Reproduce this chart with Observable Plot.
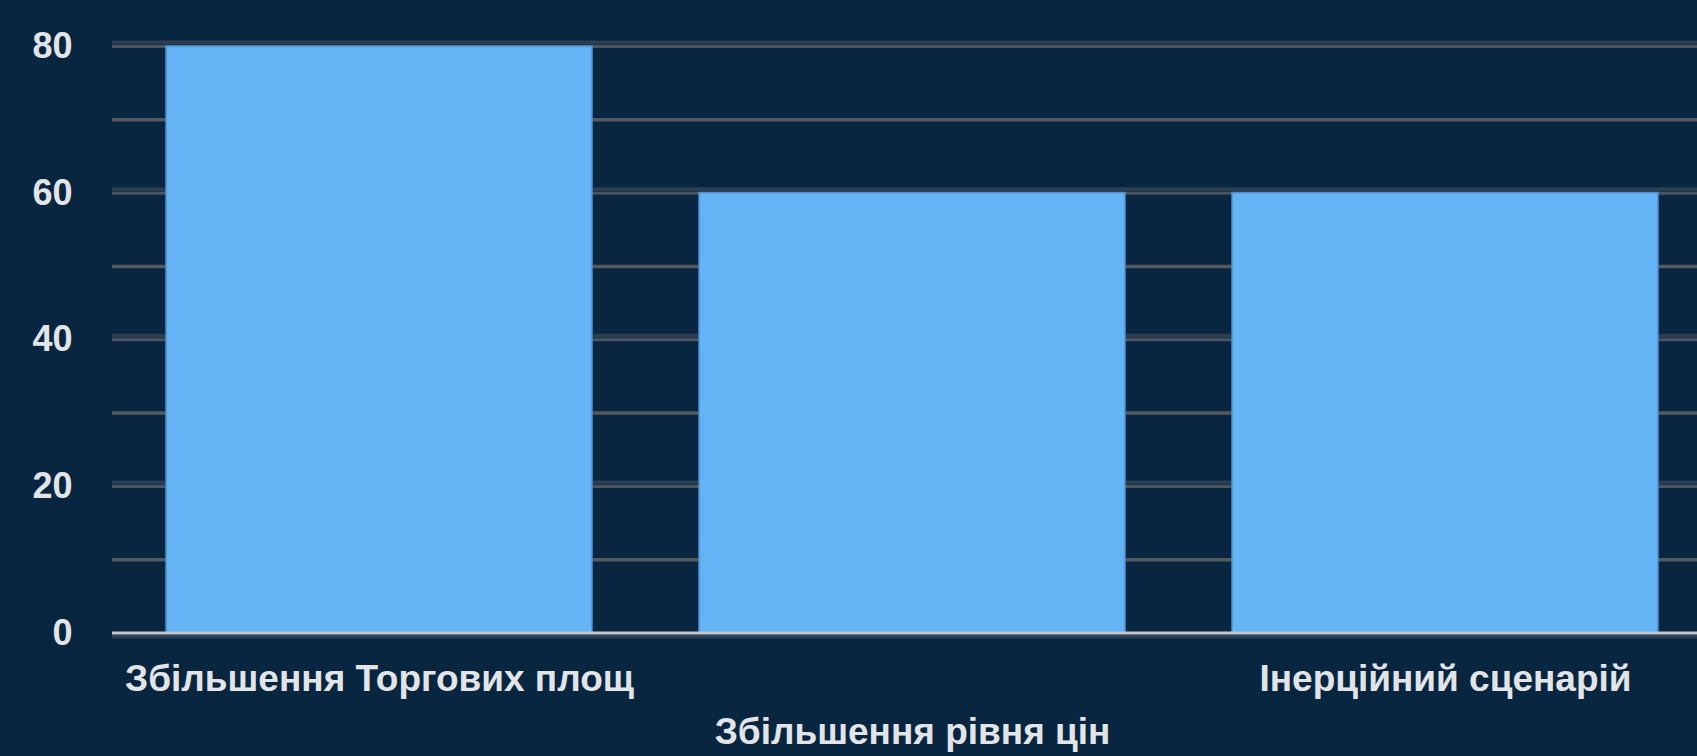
<!DOCTYPE html>
<html>
<head>
<meta charset="utf-8">
<script src="https://cdn.jsdelivr.net/npm/d3@7"></script>
<script src="https://cdn.jsdelivr.net/npm/@observablehq/plot@0.6"></script>
<style>
  html, body { margin: 0; padding: 0; background: #092641; }
  #chart svg { display: block; }
</style>
</head>
<body>
<div id="chart"></div>
<script>
const categories = ["Збільшення Торгових площ", "Збільшення рівня цін", "Інерційний сценарій"];
const values = [80, 60, 60];
const labelRows = [0, 1, 0];
const majorTicks = [0, 20, 40, 60, 80];
const minorTicks = [10, 30, 50, 70];

const data = categories.map((c, i) => ({category: c, value: values[i], row: labelRows[i]}));
const font = "'Liberation Sans', Arial, sans-serif";
const textColor = "#e2e5e8";

const chart = Plot.plot({
  width: 1697,
  height: 756,
  marginLeft: 112,
  marginRight: 0,
  marginTop: 46,
  marginBottom: 123.5,
  style: {background: "#092641", color: textColor, fontFamily: font, fontSize: "37px", fontWeight: "bold"},
  x: {domain: categories, range: [112, 1712], paddingInner: 0.2, paddingOuter: 0.1, axis: null},
  y: {domain: [0, 80], axis: null},
  marks: [
    Plot.ruleY(minorTicks, {stroke: "#545a60", strokeWidth: 3.5}),
    Plot.ruleY(majorTicks.filter(d => d > 0), {stroke: "#2b3e52", strokeWidth: 4, dy: -4}),
    Plot.ruleY(majorTicks.filter(d => d > 0), {stroke: "#4b5560", strokeWidth: 3}),
    Plot.barY(data, {x: "category", y: "value", fill: "#63b3f5", stroke: "#4d92cc", strokeWidth: 1.5}),
    Plot.ruleY([0], {stroke: "#2a4157", strokeWidth: 4, dy: 3.5}),
    Plot.ruleY([0], {stroke: "#c5c8cb", strokeWidth: 3}),
    Plot.axisY({ticks: majorTicks, tickSize: 0, tickPadding: 40, fontSize: 36, fontWeight: "bold", fill: textColor, label: null}),
    Plot.text(data.filter(d => d.row === 0), {x: "category", y: 0, text: "category", dy: 57.5, lineAnchor: "bottom", fontSize: 37, fontWeight: "bold", fill: textColor}),
    Plot.text(data.filter(d => d.row === 1), {x: "category", y: 0, text: "category", dy: 110.5, lineAnchor: "bottom", fontSize: 37, fontWeight: "bold", fill: textColor})
  ]
});
document.getElementById("chart").appendChild(chart);
</script>
</body>
</html>
